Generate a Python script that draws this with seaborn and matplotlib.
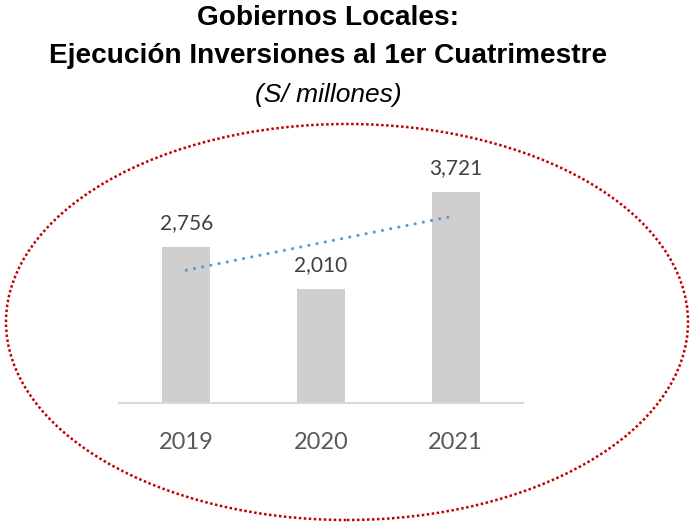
import matplotlib
matplotlib.use("Agg")
import matplotlib.pyplot as plt
import seaborn as sns
import numpy as np
import pandas as pd
from matplotlib.patches import Ellipse

years = ["2019", "2020", "2021"]
values = [2756, 2010, 3721]
title_lines = ["Gobiernos Locales:", "Ejecución Inversiones al 1er Cuatrimestre"]
subtitle = "(S/ millones)"

sns.set_style("white")
plt.rcParams["font.family"] = ["Lato", "DejaVu Sans"]

W, H = 694, 526
fig = plt.figure(figsize=(W / 100, H / 100), dpi=100)
ax = fig.add_axes([119 / W, 1 - 403 / H, (523 - 119) / W, (403 - 150) / H])

df = pd.DataFrame({"year": years, "value": values})
sns.barplot(data=df, x="year", y="value", color="#d0cece", width=0.357,
            saturation=1, ax=ax, edgecolor="none")

# linear trend line
xs = np.arange(len(values))
coef = np.polyfit(xs, values, 1)
ax.plot(xs, np.polyval(coef, xs), linestyle=(0, (0.01, 2.6)), color="#5b9bd5",
        linewidth=2.3, dash_capstyle="round", solid_capstyle="round")

for i, v in enumerate(values):
    ax.text(i, v + 250, f"{v:,}", ha="center", va="bottom", fontsize=15,
            color="#404040")

ax.set_xlim(-0.5, 2.5)
ax.set_ylim(0, 4470)
ax.set_yticks([])
ax.set_xlabel("")
ax.set_ylabel("")
for s in ["top", "left", "right"]:
    ax.spines[s].set_visible(False)
ax.spines["bottom"].set_color("#d9d9d9")
ax.spines["bottom"].set_linewidth(1.5)
ax.tick_params(axis="x", length=0, pad=21, labelsize=17, labelcolor="#595959")

cx = 328 / W
fig.text(cx, 1 - 18 / H, title_lines[0], ha="center", va="center",
         fontsize=20.2, fontweight="bold", family="Liberation Sans", color="black")
fig.text(cx, 1 - 56 / H, title_lines[1], ha="center", va="center",
         fontsize=20.2, fontweight="bold", family="Liberation Sans", color="black")
fig.text(cx, 1 - 95 / H, subtitle, ha="center", va="center",
         fontsize=19, style="italic", family="Liberation Sans", color="black")

ell = Ellipse((347 / W, 1 - 322 / H), 682 / W, 396 / H, transform=fig.transFigure,
              fill=False, edgecolor="#c00000", linewidth=1.8,
              linestyle=(0, (1, 1)))
fig.add_artist(ell)

fig.savefig("out.png", dpi=100)
